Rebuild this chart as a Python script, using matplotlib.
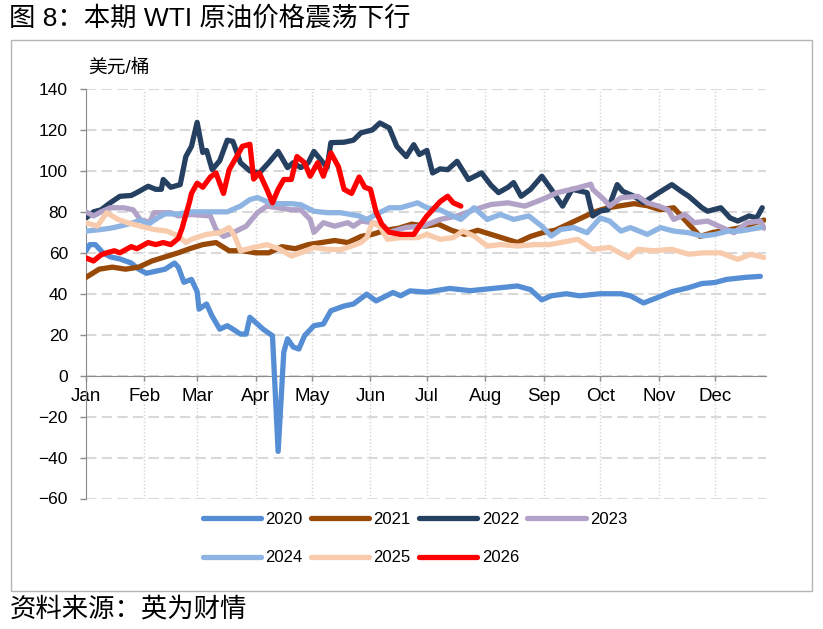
import matplotlib
matplotlib.use('Agg')
import matplotlib.pyplot as plt
from matplotlib.patches import Rectangle

plt.rcParams['font.family'] = ['Liberation Sans', 'Noto Sans CJK SC', 'DejaVu Sans']

# WTI daily price as (day of year, USD/bbl)
wti_2020 = [(0, 61), (2, 64), (5, 64), (9, 60), (13, 58), (18, 57), (24, 55), (28, 52), (32, 50),
            (37, 51), (42, 52), (47, 55), (49, 53), (52, 45.6), (56, 47), (59, 41), (60, 32.5),
            (64, 35), (67, 29), (71, 22.7), (75, 24.4), (78, 22.7), (82, 20.3), (85, 20.3),
            (87, 28.5), (91, 25.2), (94, 22.7), (99, 19.5), (102, -37), (105, 11.5), (107, 18),
            (110, 14), (113, 13), (116, 19.5), (121, 24.4), (126, 25.2), (130, 31.7), (137, 34),
            (142, 35), (149, 39.8), (154, 36.5), (163, 40.6), (167, 39), (172, 41.4), (181, 40.8),
            (193, 42.6), (204, 41.5), (215, 42.5), (229, 43.8), (236, 42), (242, 37), (247, 39),
            (255, 40), (262, 39), (273, 40), (284, 40), (289, 39), (296, 35.5), (303, 38),
            (311, 41), (320, 43), (327, 45), (334, 45.5), (340, 47), (350, 48), (358, 48.5)]

wti_2021 = [(0, 48), (7, 52), (14, 53), (21, 52), (28, 53), (35, 56), (42, 58), (49, 60), (55, 62),
            (62, 64), (69, 65), (76, 61), (83, 61), (90, 60), (97, 60), (104, 63), (111, 62),
            (118, 64), (125, 65), (132, 66), (139, 65), (146, 68), (152, 69), (159, 71), (166, 72),
            (173, 74), (180, 73), (187, 74), (194, 71), (201, 69), (208, 71), (215, 69), (222, 67),
            (229, 65), (236, 68), (243, 70), (249, 71), (256, 74), (263, 77), (270, 80), (277, 82),
            (284, 83), (291, 84), (298, 83), (305, 81), (312, 82), (319, 75), (326, 68), (333, 70),
            (340, 71), (346, 72), (353, 74), (360, 76)]

wti_2022 = [(0, 77), (4, 80), (8, 81), (13, 84.5), (18, 87.6), (24, 88), (27, 89.4), (33, 92.5),
            (37, 91), (40, 91), (41, 95.8), (45, 92), (50, 93.3), (53, 107), (56, 112), (59, 123.7),
            (62, 109), (64, 110), (67, 100.6), (71, 105), (75, 115), (78, 114.4), (82, 104),
            (87, 100), (92, 99), (97, 104), (102, 109.5), (107, 101.6), (110, 104), (114, 101.6),
            (118, 104), (121, 109.5), (125, 105), (128, 101.6), (130, 113.8), (137, 114), (142, 115),
            (146, 118.6), (152, 120), (156, 123.4), (161, 121), (165, 112), (170, 107), (174, 112.8),
            (177, 108), (181, 110), (184, 99), (188, 101), (192, 100.6), (197, 104.7), (203, 95.8),
            (210, 99), (215, 93), (219, 89.4), (224, 92), (227, 94.3), (231, 87.6), (236, 91),
            (242, 97.4), (247, 91), (253, 82.8), (258, 91), (266, 89.4), (269, 78), (273, 80.4),
            (277, 81), (282, 93.3), (285, 90), (291, 87.6), (296, 84.5), (304, 89.3), (311, 93.3),
            (316, 90), (320, 87.6), (327, 82), (330, 80.3), (337, 82), (342, 77), (346, 75.5),
            (352, 78), (356, 77), (359, 82)]

wti_2023 = [(0, 80), (4, 78), (8, 80), (13, 82), (20, 82), (25, 81), (29, 76), (34, 75), (36, 79.6),
            (45, 79.6), (49, 78), (56, 78.7), (66, 78), (69, 71.4), (73, 68), (78, 69.8), (85, 73),
            (91, 79.6), (96, 82.8), (102, 82), (109, 81), (114, 81), (119, 76.3), (121, 70),
            (126, 74.7), (132, 73), (139, 74.7), (142, 73), (146, 75.5), (152, 74.7), (158, 73),
            (161, 70), (170, 72.4), (179, 73), (188, 76.3), (197, 78), (206, 81), (215, 83.6),
            (224, 84.4), (233, 82.8), (242, 86), (250, 89.3), (261, 91.7), (268, 93.5), (269, 91),
            (275, 86), (278, 82.8), (284, 86.9), (293, 87.6), (298, 84.4), (304, 82.8), (309, 81),
            (312, 76.3), (318, 78.7), (323, 74.7), (330, 75.5), (336, 73), (344, 69.8), (351, 74.7),
            (358, 75.5), (360, 72)]

wti_2024 = [(0, 70.6), (8, 71.4), (13, 72), (18, 73), (25, 74.7), (29, 76), (33, 73.9), (38, 77),
            (42, 79), (49, 79), (56, 80), (66, 80), (75, 80), (82, 82.8), (87, 86), (91, 87),
            (96, 85), (102, 84), (109, 84), (114, 83.5), (121, 80.3), (128, 79.6), (135, 79.6),
            (145, 78), (149, 76.3), (154, 78.7), (161, 82), (167, 82), (176, 84.4), (181, 82),
            (188, 81), (193, 78.7), (199, 76.3), (206, 82), (213, 76.3), (220, 78.7), (227, 76.3),
            (235, 78), (242, 73), (247, 68.2), (252, 71.4), (259, 72.3), (266, 69.8), (273, 77),
            (278, 75.5), (284, 70.6), (289, 72.3), (298, 69), (305, 72.3), (312, 70.6), (320, 69.8),
            (327, 68.2), (334, 69), (341, 70.6), (347, 70.6), (358, 72.3)]

wti_2025 = [(0, 74.7), (6, 73), (11, 79.6), (17, 76.3), (22, 74.7), (29, 73), (36, 71.4), (43, 70.6),
            (49, 68.2), (53, 65), (56, 66.6), (64, 69), (71, 69.8), (76, 72.3), (79, 68), (82, 61),
            (89, 62.6), (96, 64), (103, 61.7), (109, 58.4), (114, 60), (121, 62.6), (128, 61.7),
            (135, 61.5), (141, 63.3), (146, 65), (149, 67.4), (152, 74.7), (156, 73), (160, 66.6),
            (167, 67.4), (176, 67.4), (181, 69), (188, 66.6), (195, 67.4), (200, 70.6), (206, 68.2),
            (213, 63.3), (220, 64), (229, 63.3), (238, 64), (246, 64), (252, 65), (261, 66.6),
            (269, 61.7), (278, 62.6), (288, 57.7), (293, 61.7), (301, 61), (311, 61.7), (320, 59.3),
            (328, 60), (337, 60), (346, 56.8), (353, 59.3), (360, 57.7)]

wti_2026 = [(0, 57.5), (4, 56), (8, 59), (11, 60), (15, 61), (18, 60), (24, 63), (27, 62), (33, 65),
            (37, 64), (41, 65), (45, 64), (49, 67), (51, 72), (55, 85), (56, 89), (59, 94), (62, 92),
            (66, 97), (69, 99), (73, 89), (76, 100.6), (80, 107), (83, 112), (87, 113), (89, 96),
            (92, 99), (96, 91), (99, 84.4), (102, 91), (105, 95.8), (109, 95.8), (112, 107),
            (116, 104), (119, 97.4), (123, 104), (126, 97.4), (130, 108.8), (134, 102), (137, 91),
            (141, 89), (145, 97), (148, 92), (151, 91), (154, 80), (157, 74), (161, 70), (167, 69),
            (174, 69), (177, 73), (181, 78), (184, 81), (188, 85), (192, 87.6), (195, 84.4),
            (199, 82.8)]

years = ['2020', '2021', '2022', '2023', '2024', '2025', '2026']
series = [wti_2020, wti_2021, wti_2022, wti_2023, wti_2024, wti_2025, wti_2026]
colors = ['#558ED5', '#984807', '#254061', '#B3A2C7', '#8EB4E3', '#F8CBAD', '#FF0000']

month_starts = [0, 31, 59, 90, 120, 151, 181, 212, 243, 273, 304, 334]
month_names = ['Jan', 'Feb', 'Mar', 'Apr', 'May', 'Jun', 'Jul', 'Aug', 'Sep', 'Oct', 'Nov', 'Dec']

W, H = 823, 629
fig = plt.figure(figsize=(W / 100, H / 100), dpi=100)

# outer frame around the chart
fig.patches.append(Rectangle((11 / W, 1 - 591 / H), 801 / W, 551 / H, transform=fig.transFigure,
                             fill=False, edgecolor='#B4B4B4', linewidth=1))

ax = fig.add_axes([86 / W, 1 - 498.5 / H, 680 / W, 409.5 / H])

handles = []
for yr, data, c in zip(years, series, colors):
    xs = [d for d, v in data]
    ys = [v for d, v in data]
    h, = ax.plot(xs, ys, color=c, lw=3.8, label=yr, solid_joinstyle='round',
                 solid_capstyle='round', zorder=3)
    handles.append(h)

ax.set_xlim(0, 361)
ax.set_ylim(-60, 140)
ax.set_yticks(range(-60, 141, 20))
ax.set_xticks(month_starts)
ax.set_xticklabels(month_names)

ax.set_axisbelow(True)
ax.yaxis.grid(True, color='#D9D9D9', lw=1.5, linestyle=(0, (5, 2.5)))
ax.xaxis.grid(True, color='#D4D4D4', lw=1, linestyle=(0, (1, 1.5)))

for s in ['top', 'right']:
    ax.spines[s].set_visible(False)
ax.spines['bottom'].set_position(('data', 0))
ax.spines['bottom'].set_color('#8C8C8C')
ax.spines['left'].set_color('#8C8C8C')
ax.spines['bottom'].set_zorder(2)

ax.tick_params(axis='x', length=3.5, width=1, color='#8C8C8C', pad=5.5, labelsize=13.5)
ax.tick_params(axis='y', length=4, width=1, color='#8C8C8C', pad=9, labelsize=12.5)

fig.text(88 / W, 1 - 68 / H, '美元/桶', fontsize=13.5, va='center', ha='left')

order = [0, 4, 1, 5, 2, 6, 3]
fig.legend([handles[i] for i in order], [years[i] for i in order],
           loc='upper left', bbox_to_anchor=(203 / W, 1 - 512 / H), ncol=4, frameon=False,
           fontsize=12, handlelength=3.5, handletextpad=0.25, columnspacing=0.5,
           labelspacing=1.4, borderpad=0, borderaxespad=0)

fig.text(9 / W, 1 - 18 / H, '图 8：本期 WTI 原油价格震荡下行', fontsize=19, va='center', ha='left')
fig.text(10 / W, 1 - 609 / H, '资料来源：英为财情', fontsize=19, va='center', ha='left')

fig.savefig('out.png', dpi=100)
